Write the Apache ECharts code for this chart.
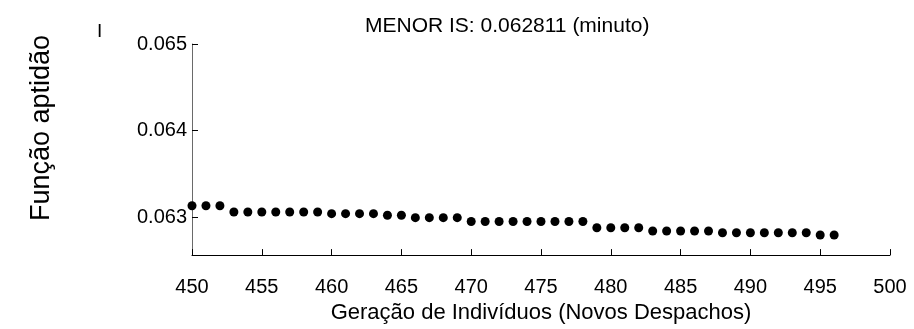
<!DOCTYPE html>
<html>
<head>
<meta charset="utf-8">
<script src="https://cdn.jsdelivr.net/npm/echarts@6/dist/echarts.min.js"></script>
<style>
html,body{margin:0;padding:0;background:#fff;}
#chart{width:914px;height:329px;}
</style>
</head>
<body>
<div id="chart"></div>
<script>
const generations = [450,451,452,453,454,455,456,457,458,459,460,461,462,463,464,465,466,467,468,469,470,471,472,473,474,475,476,477,478,479,480,481,482,483,484,485,486,487,488,489,490,491,492,493,494,495,496];
const fitness = [
  0.063130,0.063130,0.063130,
  0.063058,0.063058,0.063058,0.063058,0.063058,0.063058,0.063058,
  0.063039,0.063039,0.063039,0.063039,
  0.063021,0.063021,
  0.062993,0.062993,0.062993,0.062993,
  0.062949,0.062949,0.062949,0.062949,0.062949,0.062949,0.062949,0.062949,0.062949,
  0.062876,0.062876,0.062876,0.062876,
  0.062838,0.062838,0.062838,0.062838,0.062838,
  0.062818,0.062818,0.062818,0.062818,0.062818,0.062818,0.062818,
  0.062792,0.062792
];
const xTicks = [450,455,460,465,470,475,480,485,490,495,500];
const yTicks = [0.063,0.064,0.065];
const titleText = 'MENOR IS: 0.062811 (minuto)';
const xName = 'Geração de Indivíduos (Novos Despachos)';
const yName = 'Função aptidão';

const font = 'Liberation Sans, Arial, sans-serif';
const chart = echarts.init(document.getElementById('chart'), null, {renderer:'canvas'});
chart.setOption({
  animation: false,
  backgroundColor: '#fff',
  title: {
    text: titleText,
    left: 360, top: 11,
    textStyle: {fontFamily: font, fontSize: 21, fontWeight: 'normal', color: '#000'}
  },
  graphic: [{
    type: 'text', left: 97, top: 22,
    style: {text: 'I', font: '19px ' + font, fill: '#000'}
  }, {
    type: 'text', x: 42, y: 128, rotation: Math.PI / 2,
    style: {text: yName, font: '27px ' + font, fill: '#000', align: 'center', verticalAlign: 'middle'}
  }],
  grid: {left: 192, right: 24, top: 44, bottom: 61, containLabel: false},
  xAxis: {
    type: 'value', min: 450, max: 500, interval: 5,
    name: xName, nameLocation: 'middle', nameGap: 45,
    nameTextStyle: {fontFamily: font, fontSize: 22, color: '#000'},
    axisLine: {show: true, lineStyle: {color: '#000', width: 1}},
    axisTick: {show: true, inside: true, length: 6, lineStyle: {color: '#000'}},
    axisLabel: {fontFamily: font, fontSize: 20, color: '#000', margin: 22,
      customValues: xTicks, formatter: v => String(v)},
    splitLine: {show: false}
  },
  yAxis: {
    type: 'value', min: 0.06256, max: 0.065,
    axisLine: {show: true, onZero: false, lineStyle: {color: '#6a6a6a', width: 1}},
    axisTick: {show: true, inside: true, length: 6, customValues: yTicks, lineStyle: {color: '#000'}},
    axisLabel: {fontFamily: font, fontSize: 20, color: '#000', margin: 5,
      customValues: yTicks, formatter: v => v.toFixed(3)},
    splitLine: {show: false}
  },
  series: [{
    type: 'scatter',
    symbol: 'circle', symbolSize: 9,
    itemStyle: {color: '#000', opacity: 1},
    data: generations.map((g, i) => [g, fitness[i]])
  }]
});
</script>
</body>
</html>
